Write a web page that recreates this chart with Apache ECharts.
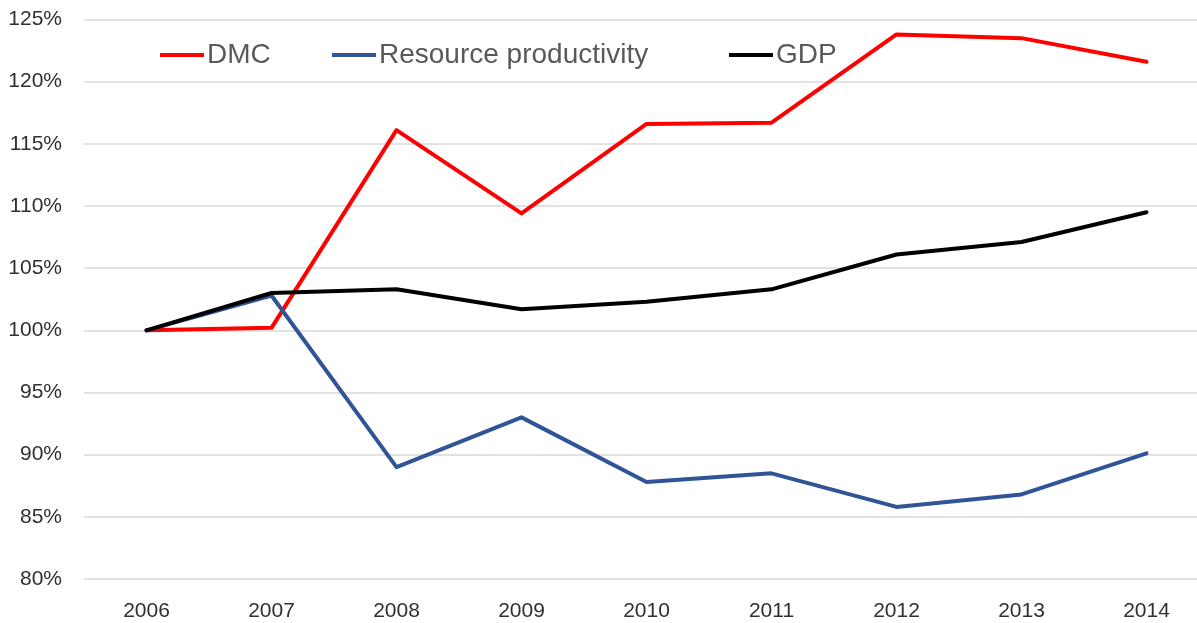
<!DOCTYPE html>
<html style="height: 100%">
    <head>
        <title>DMC vs Resource productivity vs GDP</title>
        <script type="text/javascript" src="https://fastly.jsdelivr.net/npm/echarts@6.0.0/dist/echarts.min.js"></script>
    </head>
    <body style="height: 100%; margin: 0; background: #ffffff">
        <div id="target" style="width: 1197px; height: 623px"></div>

<script type="text/javascript">
// chart data, index 100 = 2006
let years = ["2006", "2007", "2008", "2009", "2010", "2011", "2012", "2013", "2014"];

let dmc          = [100, 100.2, 116.1, 109.4, 116.6, 116.7, 123.8, 123.5, 121.6];
let resourceProd = [100, 102.8,  89.0,  93.0,  87.8,  88.5,  85.8,  86.8,  90.1];
let gdp          = [100, 103.0, 103.3, 101.7, 102.3, 103.3, 106.1, 107.1, 109.5];

let seriesNames  = ["DMC", "Resource productivity", "GDP"];
let seriesColors = ["#ff0000", "#2f5597", "#000000"];
let legendLeft   = [155, 327, 724];

let chart = echarts.init(document.getElementById('target'));

// one legend per item so each sits where the original has it
let legends = seriesNames.map((name, i) => ({
    data: [name],
    left: legendLeft[i],
    top: 26,
    itemWidth: 44,
    itemHeight: 4,
    itemGap: 0,
    icon: "rect",
    textStyle: {
        fontFamily: "Liberation Sans",
        fontSize: 28,
        color: "#595959",
        padding: [0, 0, 0, -2],
    },
}));

let MakeSeries = (name, data, color) => ({
    name: name,
    type: "line",
    data: data,
    symbol: "none",
    lineStyle: {
        color: color,
        width: 4,
        cap: "round",
        join: "round",
    },
    itemStyle: { color: color },
});

let option = {
    animation: false,
    legend: legends,
    grid: {
        left: 84,
        top: 19.5,
        width: 1125,
        height: 559.5,
        containLabel: false,
        outerBoundsMode: "none",
    },
    xAxis: {
        type: "category",
        data: years,
        boundaryGap: true,
        axisLine: { show: false },
        axisTick: { show: false },
        axisLabel: {
            fontFamily: "Liberation Sans",
            fontSize: 21,
            color: "#303030",
            margin: 14,
        },
    },
    yAxis: {
        type: "value",
        min: 80,
        max: 125,
        interval: 5,
        axisLine: { show: false },
        axisTick: { show: false },
        axisLabel: {
            fontFamily: "Liberation Sans",
            fontSize: 21,
            color: "#303030",
            margin: 22,
            formatter: v => v + "%",
        },
        splitLine: {
            lineStyle: { color: "#d9d9d9", width: 1.5 },
        },
    },
    series: [
        MakeSeries(seriesNames[0], dmc, seriesColors[0]),
        MakeSeries(seriesNames[1], resourceProd, seriesColors[1]),
        MakeSeries(seriesNames[2], gdp, seriesColors[2]),
    ],
};

chart.setOption(option);
</script>
    </body>
</html>
